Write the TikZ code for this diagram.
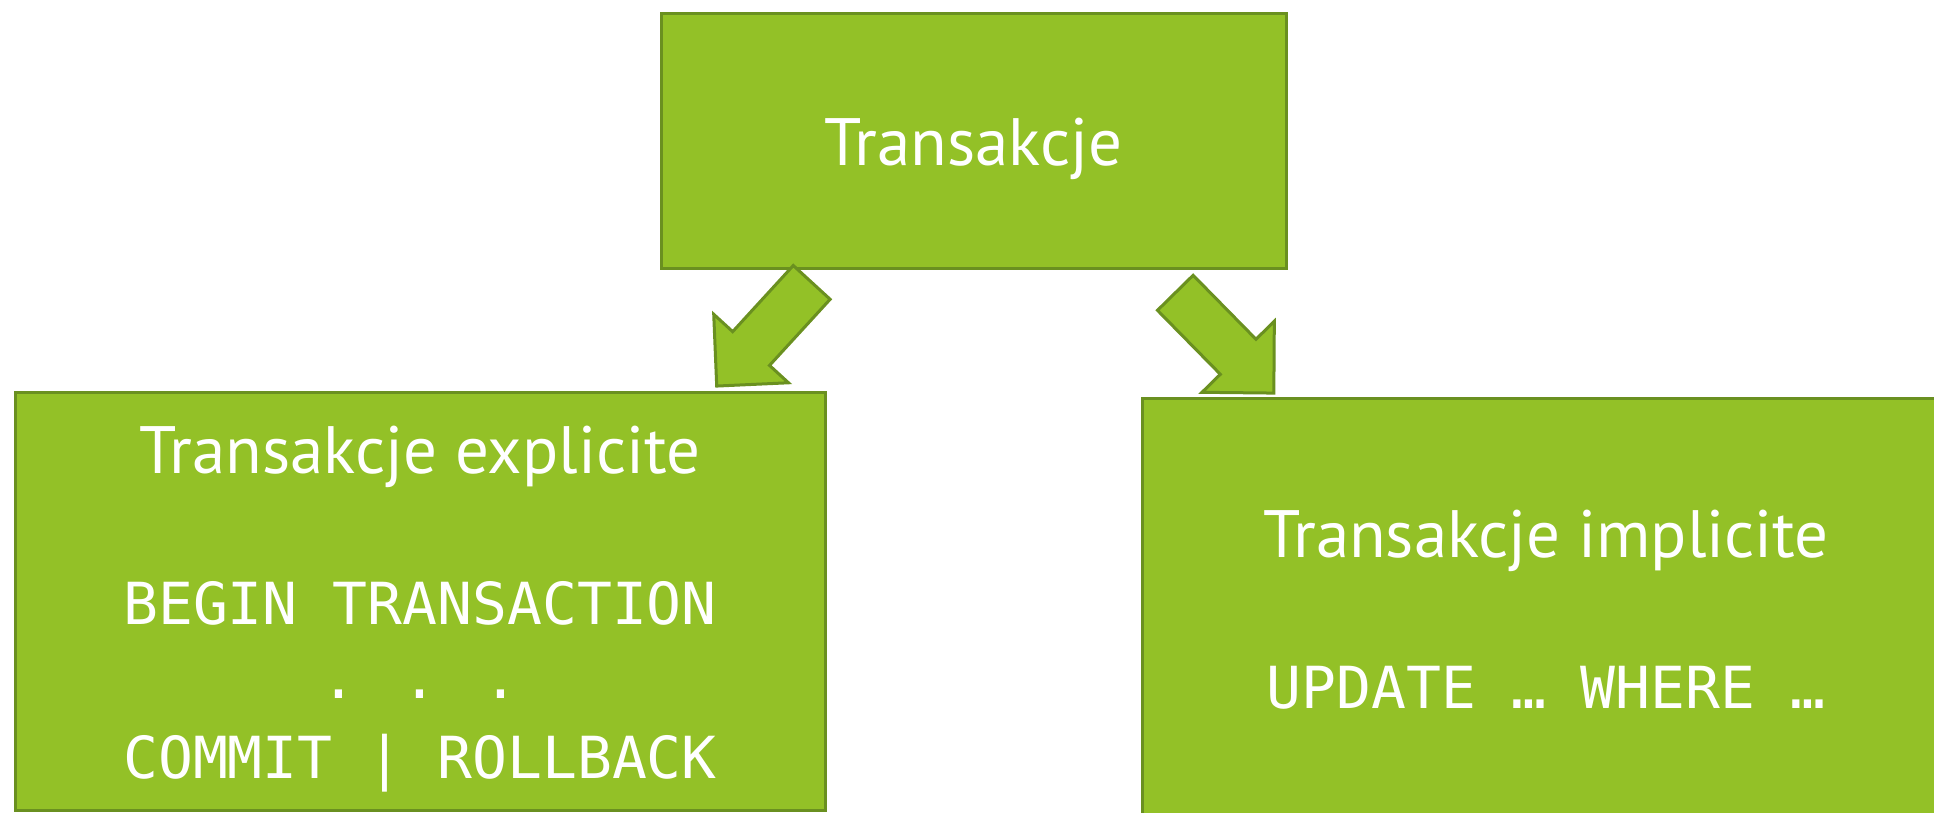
\documentclass[tikz,border=0pt]{standalone}
\usepackage{fontspec}
\newfontfamily\titlefont{PT Sans}
\newfontfamily\codefont{DejaVu Sans Mono}
\definecolor{boxfill}{HTML}{93C127}
\definecolor{boxline}{HTML}{6A9020}
\tikzset{
  box/.style={draw=boxline, fill=boxfill, line width=1.5pt, rectangle, inner sep=0pt},
  blockarrow/.style={draw=boxline, fill=boxfill, line width=1.5pt, line join=miter},
  title/.style={text=white, inner sep=0pt, anchor=base, font=\titlefont\fontsize{33.5pt}{40pt}\selectfont},
  code/.style={text=white, inner sep=0pt, anchor=base, font=\codefont\fontsize{29pt}{34pt}\selectfont}
}
\begin{document}
\begin{tikzpicture}[x=0.5pt, y=-0.5pt]
\useasboundingbox (0,0) rectangle (1934,813);
\clip (0,0) rectangle (1934,813);
% boxes
\node[box, minimum width=625*0.5pt, minimum height=254*0.5pt] (top) at (973.5,141) {};
\node[box, minimum width=810*0.5pt, minimum height=418*0.5pt] (left) at (420,601) {};
\node[box, minimum width=808*0.5pt, minimum height=422*0.5pt] (right) at (1546,609) {};
% texts
\node[title] (toptext) at (973.5,166) {Transakcje};
\node[title] (lefttitle) at (420,473) {Transakcje explicite};
\node[code] (begin) at (420,624) {BEGIN TRANSACTION};
\node[code] (dots) at (420,698) {. . .};
\node[code] (commit) at (420,778) {COMMIT | ROLLBACK};
\node[title] (righttitle) at (1546,557) {Transakcje implicite};
\node[code] (update) at (1546,708) {UPDATE … WHERE …};
% block arrows
\coordinate (a1) at (811.7,282.4);
\coordinate (a2) at (1175.3,292.8);
\draw[blockarrow, shift={(a1)}, rotate=227.5]
  (0,25) -- (89.7,25) -- (89.7,50.7) -- (140.6,0) -- (89.7,-50.7) -- (89.7,-25) -- (0,-25) -- cycle;
\draw[blockarrow, shift={(a2)}, rotate=-45.5]
  (0,25) -- (89.7,25) -- (89.7,50.7) -- (140.6,0) -- (89.7,-50.7) -- (89.7,-25) -- (0,-25) -- cycle;
\end{tikzpicture}
\end{document}
